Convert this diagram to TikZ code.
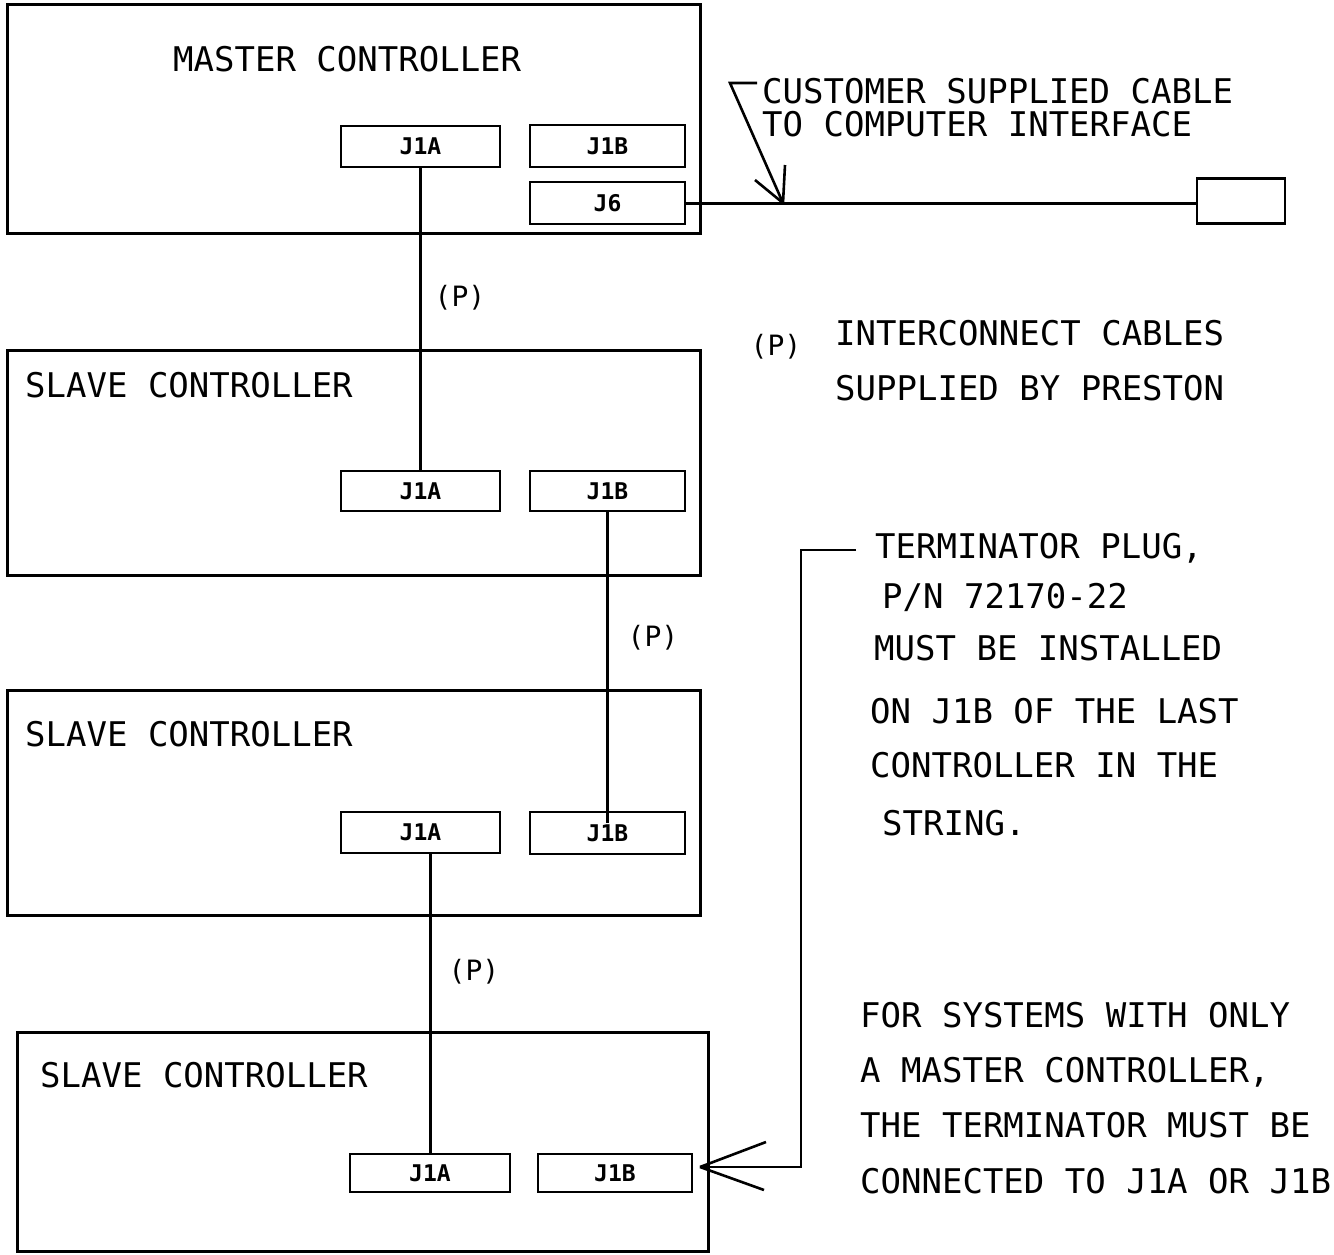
\documentclass[tikz,border=0pt]{standalone}
\usepackage{fontspec}
\newfontfamily\plotfont{DejaVu Sans Mono}
\begin{document}
\begin{tikzpicture}[x=1pt,y=-1pt,
  unit/.style={draw, line width=3pt, inner sep=0pt},
  port/.style={draw, line width=2.8pt, inner sep=0pt, font=\plotfont\bfseries\fontsize{23}{26}\selectfont},
  big/.style={font=\plotfont\fontsize{34}{40}\selectfont, inner sep=0pt, anchor=base west},
  plab/.style={font=\plotfont\fontsize{28}{32}\selectfont, inner sep=0pt},
  cable/.style={line width=3pt},
  lead/.style={line width=2.6pt}]
\useasboundingbox (0,0) rectangle (1334,1255);
\fill[white] (0,0) rectangle (1334,1255);

% controller units
\node[unit, minimum width=693pt, minimum height=228pt] (master) at (353.5,119) {};
\node[unit, minimum width=693pt, minimum height=225pt] (slave1) at (353.5,462.5) {};
\node[unit, minimum width=693pt, minimum height=225pt] (slave2) at (353.5,802.5) {};
\node[unit, minimum width=691pt, minimum height=219pt] (slave3) at (362.5,1141.5) {};

\node[big] (mtitle) at (173,72) {MASTER CONTROLLER};
\node[big] (s1title) at (25,397) {SLAVE CONTROLLER};
\node[big] (s2title) at (25,746) {SLAVE CONTROLLER};
\node[big] (s3title) at (40,1087) {SLAVE CONTROLLER};

% ports
\node[port, minimum width=159pt, minimum height=41pt] (mJ1A) at (420.5,146.5) {J1A};
\node[port, minimum width=155pt, minimum height=42pt] (mJ1B) at (607.5,146) {J1B};
\node[port, minimum width=155pt, minimum height=42pt] (mJ6) at (607.5,203) {J6};
\node[port, minimum width=159pt, minimum height=40pt] (s1J1A) at (420.5,491) {J1A};
\node[port, minimum width=155pt, minimum height=40pt] (s1J1B) at (607.5,491) {J1B};
\node[port, minimum width=159pt, minimum height=41pt] (s2J1A) at (420.5,832.5) {J1A};
\node[port, minimum width=155pt, minimum height=42pt] (s2J1B) at (607.5,833) {J1B};
\node[port, minimum width=160pt, minimum height=38pt] (s3J1A) at (430,1173) {J1A};
\node[port, minimum width=154pt, minimum height=38pt] (s3J1B) at (615,1173) {J1B};
\node[port, minimum width=88pt, minimum height=45pt] (plug) at (1241,201) {};

% interconnect cables
\draw[cable] (mJ1A.south) -- (s1J1A.north);
\draw[cable] (s1J1B.south) -- ([yshift=-12pt]s2J1B.north);
\draw[cable] (s2J1A.south -| s3J1A.north) -- (s3J1A.north);
\draw[cable] (mJ6.east) -- (mJ6.east -| plug.west);

\node[plab] (p1) at (460,298) {(P)};
\node[plab] (p2) at (653,638) {(P)};
\node[plab] (p3) at (474,972) {(P)};

% customer cable callout
\node[big] (ctext1) at (762,103) {CUSTOMER SUPPLIED CABLE};
\node[big] (ctext2) at (762,136) {TO COMPUTER INTERFACE};
\coordinate (cstart) at (757,83);
\coordinate (chook) at (730,83);
\coordinate (ctip) at (783,203);
\draw[lead, line join=miter] (cstart) -- (chook) -- (ctip);
\draw[lead] (ctip) -- ++(-28,-23);
\draw[lead] (ctip) -- ++(2,-38);

% legend
\node[plab] (plegend) at (776,347) {(P)};
\node[big] (ltext1) at (835,345) {INTERCONNECT CABLES};
\node[big] (ltext2) at (835,400) {SUPPLIED BY PRESTON};

% terminator note
\node[big] (t1) at (875,558) {TERMINATOR PLUG,};
\node[big] (t2) at (882,608) {P/N 72170-22};
\node[big] (t3) at (874,660) {MUST BE INSTALLED};
\node[big] (t4) at (870,723) {ON J1B OF THE LAST};
\node[big] (t5) at (870,777) {CONTROLLER IN THE};
\node[big] (t6) at (882,835) {STRING.};
\coordinate (tstart) at (856,550);
\coordinate (tcorner) at (801,550);
\coordinate (ttip) at (700,1167);
\draw[lead, line join=miter] (tstart) -- (tcorner) -- (tcorner |- ttip) -- (ttip);
\draw[lead] (ttip) -- ++(66,-25);
\draw[lead] (ttip) -- ++(64,23);

\node[big] (f1) at (860,1027) {FOR SYSTEMS WITH ONLY};
\node[big] (f2) at (860,1082) {A MASTER CONTROLLER,};
\node[big] (f3) at (860,1137) {THE TERMINATOR MUST BE};
\node[big] (f4) at (860,1193) {CONNECTED TO J1A OR J1B};
\end{tikzpicture}
\end{document}
